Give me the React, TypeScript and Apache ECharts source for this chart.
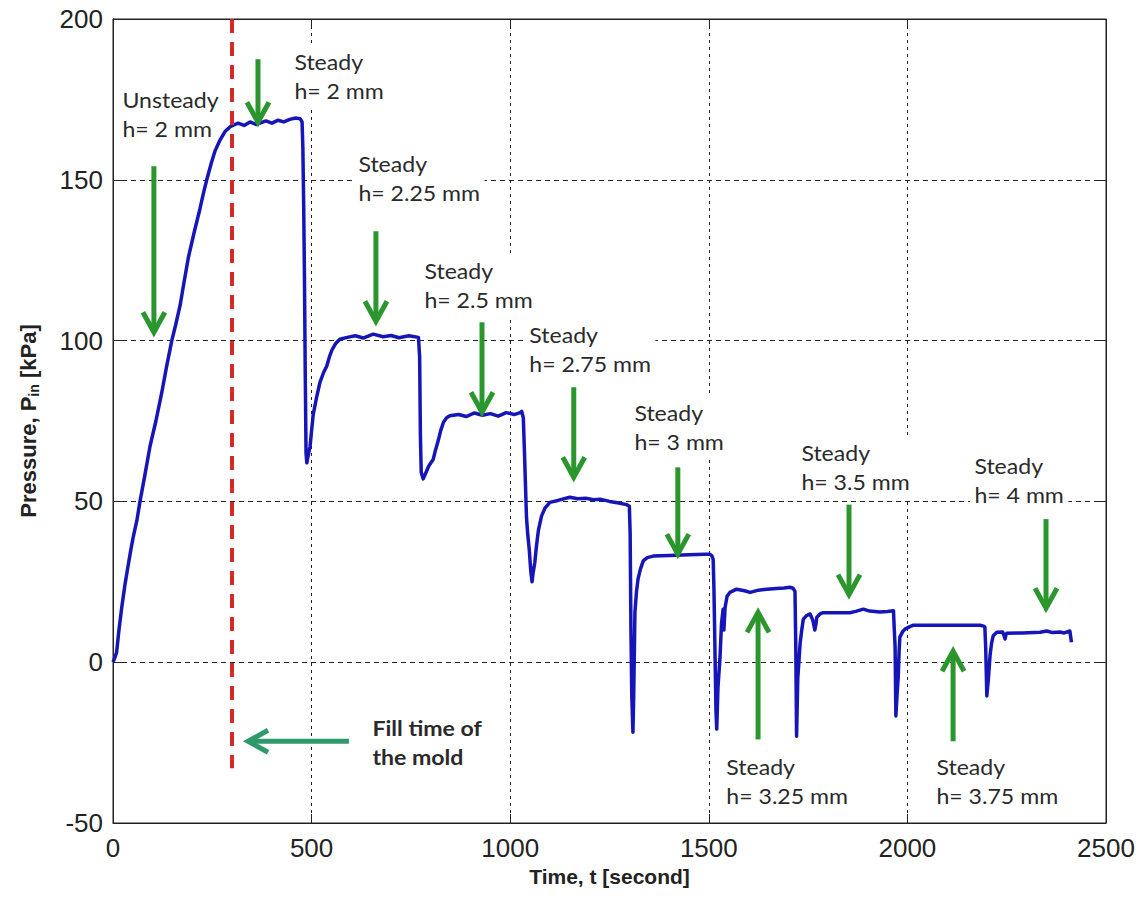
import React, { useEffect, useRef } from 'react';
import * as echarts from 'echarts';

// Pressure trace: [time (s), pressure (kPa)]
const pressureTrace: [number, number][] = [
  [0,0],[5,1.5],[9,3],[15,10],[22,17],[30,24],[38,30],[45,35],[51,39],[60,44],[68,50],[80,58],[93,67],[108,75],[123,84],[135,92],[148,100],[158,105],[169,111],[180,119],[190,126],[205,134],[219,141],[228,146],[236,150],[247,155],[257,159],[268,162],[282,165],[295,166.5],[303,167],[315,167.6],[330,166.9],[345,168],[360,167.2],[370,167.6],[385,168.3],[400,167.6],[415,168.5],[430,168],[445,168.8],[460,169.2],[471,169],[476,168],[478,160],[480,143],[482,120],[484,90],[486,65],[488,62],[491,64],[496,67],[500,72],[504,77],[512,82],[521,87],[530,90],[538,92],[545,95],[551,97],[560,99],[571,100.4],[590,101],[610,101.5],[630,100.8],[655,102],[680,101.2],[700,101.6],[720,100.9],[745,101.5],[769,101],[772,95],[774,70],[776,59],[781,57],[788,59],[795,61],[806,63],[812,66],[819,69],[825,72],[832,74.6],[840,76],[848,76.6],[870,77],[890,76.4],[910,77.5],[930,76.8],[950,77.3],[970,76.5],[990,77.6],[1010,77],[1025,77.6],[1029,78],[1033,76],[1036,65],[1038,57],[1041,45],[1044,40],[1048,35],[1052,28],[1055,25],[1058,28],[1062,31],[1066,36],[1071,41],[1079,45.5],[1088,48],[1100,49.7],[1120,50.3],[1150,51.3],[1170,50.8],[1190,51],[1210,50.5],[1226,50.7],[1250,50],[1270,49.6],[1293,49],[1300,48.5],[1302,40],[1304,10],[1306,-10],[1309,-21.8],[1311,-10],[1314,15.5],[1318,22],[1322,26],[1328,29],[1335,31.5],[1345,32.5],[1360,33],[1400,33.2],[1450,33.4],[1490,33.6],[1503,33.6],[1508,33],[1511,32],[1513,22.7],[1516,0],[1518,-15],[1520,-20.8],[1523,-8],[1528,1],[1532,12],[1536,16.5],[1538,10],[1541,17],[1546,20.5],[1553,21.7],[1570,22.7],[1590,22.2],[1604,21.7],[1625,22.4],[1646,22.7],[1670,22.9],[1690,23.1],[1704,23.3],[1712,23],[1717,22],[1719,5],[1721,-23],[1724,-5],[1730,6],[1734,10],[1738,13.4],[1746,14.5],[1755,15],[1762,13],[1767,10],[1770,12],[1772,14],[1780,15],[1788,15.4],[1820,15.4],[1855,15.4],[1870,15.8],[1889,16.5],[1905,15.9],[1931,15.6],[1950,15.8],[1965,16],[1967,10],[1969,5],[1971,-16.7],[1974,-10],[1977,-4.3],[1979,3],[1981,7.8],[1988,9.5],[1994,10.3],[2005,11],[2015,11.5],[2100,11.5],[2183,11.5],[2192,11.2],[2195,10.9],[2197,5],[2200,-10.5],[2204,-5],[2208,2],[2212,6],[2216,8.2],[2225,9.3],[2240,9.4],[2244,8],[2246,7.2],[2248,8.5],[2250,9],[2290,9.1],[2334,9.3],[2351,9.7],[2365,9.2],[2384,9.4],[2395,9.1],[2409,9.7],[2411,8],[2413,6.2],
];

const fillTime = 300; // s
const fillLineBottom = -33;

const xRange = [0, 2500];
const yRange = [-50, 200];

// Annotation texts, anchored in data coordinates (left edge, centre of first line)
const labelTexts = [
  'Unsteady\nh= 2 mm', 'Steady\nh= 2 mm', 'Steady\nh= 2.25 mm', 'Steady\nh= 2.5 mm',
  'Steady\nh= 2.75 mm', 'Steady\nh= 3 mm', 'Steady\nh= 3.5 mm', 'Steady\nh= 4 mm',
  'Steady\nh= 3.25 mm', 'Steady\nh= 3.75 mm', 'Fill time of\nthe mold',
];
const labelAnchorT = [12.6, 445.6, 606.7, 773, 1037, 1301.6, 1722, 2157.6, 1533, 2062, 642];
const labelAnchorP = [175.4, 187.2, 155.5, 122.2, 102.3, 78, 65.6, 61.6, -32, -32, -19.9];

// Arrows: from (t0,p0) to tip (t1,p1)
const arrowFromT = [103, 365, 662, 929, 1160, 1422, 1624, 1853, 2115, 2349, 594];
const arrowFromP = [154.2, 187.5, 134, 105.7, 85.5, 60.6, -24, 49, -24.6, 44.5, -24.6];
const arrowToT = [103, 365, 662, 929, 1160, 1422, 1624, 1853, 2115, 2349, 340];
const arrowToP = [102.6, 167.9, 106, 77.7, 57.5, 33.6, 15.5, 21, 3.4, 16.8, -24.6];

export default function App() {
  const ref = useRef<HTMLDivElement>(null);
  useEffect(() => {
    if (!ref.current) return;
    const chart = echarts.init(ref.current, null, { renderer: 'svg' });
    const axisColor = '#222';
    const tickFont = { fontFamily: 'Liberation Sans', fontSize: 26, color: '#222', formatter: (v: number) => String(v) };
    chart.setOption({
      animation: false,
      backgroundColor: '#fff',
      grid: { left: 113, top: 19, width: 993, height: 804, show: true, borderColor: axisColor, borderWidth: 1 },
      xAxis: [
        {
          type: 'value', min: xRange[0], max: xRange[1], interval: 500,
          name: 'Time, t [second]', nameLocation: 'middle', nameGap: 38,
          nameTextStyle: { fontFamily: 'Liberation Sans', fontWeight: 'bold', fontSize: 21, color: '#222' },
          axisLine: { show: true, onZero: false, lineStyle: { color: axisColor, width: 1 } },
          axisTick: { show: true, inside: true, length: 9, lineStyle: { color: axisColor } },
          axisLabel: { ...tickFont, margin: 12 },
          splitLine: { show: true, lineStyle: { color: axisColor, type: [3, 4], width: 1 } },
        },
        {
          type: 'value', position: 'top', min: xRange[0], max: xRange[1], interval: 500,
          axisLine: { show: true, onZero: false, lineStyle: { color: axisColor } },
          axisTick: { show: true, inside: true, length: 9, lineStyle: { color: axisColor } },
          axisLabel: { show: false }, splitLine: { show: false },
        },
      ],
      yAxis: [
        {
          type: 'value', min: yRange[0], max: yRange[1], interval: 50,
          name: '{b|Pressure, P}{s|in}{b| [kPa]}', nameLocation: 'middle', nameGap: 72,
          nameTextStyle: {
            rich: {
              b: { fontFamily: 'Liberation Sans', fontWeight: 'bold', fontSize: 22, color: '#222', lineHeight: 26 },
              s: { fontFamily: 'Liberation Sans', fontWeight: 'bold', fontSize: 14, color: '#222', lineHeight: 10, verticalAlign: 'bottom' },
            },
          },
          axisLine: { show: true, onZero: false, lineStyle: { color: axisColor, width: 1 } },
          axisTick: { show: true, inside: true, length: 9, lineStyle: { color: axisColor } },
          axisLabel: { ...tickFont, margin: 10 },
          splitLine: { show: true, lineStyle: { color: axisColor, type: [5, 4], width: 1 } },
        },
        {
          type: 'value', position: 'right', min: yRange[0], max: yRange[1], interval: 50,
          axisLine: { show: true, onZero: false, lineStyle: { color: axisColor } },
          axisTick: { show: true, inside: true, length: 9, lineStyle: { color: axisColor } },
          axisLabel: { show: false }, splitLine: { show: false },
        },
      ],
      series: [
        {
          type: 'line', data: pressureTrace, showSymbol: false, z: 3,
          lineStyle: { color: '#1616b8', width: 3.5, join: 'round' },
          markLine: {
            silent: true, symbol: ['none', 'none'], z: 4,
            label: { show: false },
            lineStyle: { color: '#d42a2a', width: 4, type: [14, 9] },
            data: [[{ coord: [fillTime, yRange[1]] }, { coord: [fillTime, fillLineBottom] }]],
          },
        },
      ],
    });

    const toPx = (t: number, p: number) => chart.convertToPixel({ gridIndex: 0 }, [t, p]) as number[];
    const graphics: any[] = [];
    labelTexts.forEach((txt, i) => {
      const [x, y] = toPx(labelAnchorT[i], labelAnchorP[i]);
      const bold = i === labelTexts.length - 1;
      graphics.push({
        type: 'text', x, y: y - 14.5, z: 1, scaleX: 1.1, originX: 0, originY: 0,
        style: {
          text: txt, fill: '#2a2a2a', fontFamily: 'Lato', fontSize: 21, fontWeight: bold ? 'bold' : 'normal',
          lineHeight: 29, align: 'left', verticalAlign: 'top',
          backgroundColor: '#fff', padding: [2, 4, 2, 4],
        },
      });
    });
    arrowFromT.forEach((_, i) => {
      const [x0, y0] = toPx(arrowFromT[i], arrowFromP[i]);
      const [x1, y1] = toPx(arrowToT[i], arrowToP[i]);
      const color = i === arrowFromT.length - 1 ? '#2e9a6c' : '#2b962e';
      const dx = x1 - x0, dy = y1 - y0;
      const len = Math.hypot(dx, dy) || 1;
      const ux = dx / len, uy = dy / len;
      const hl = 20, hw = 11;
      graphics.push({
        type: 'line', z: 12,
        shape: { x1: x0, y1: y0, x2: x1 - ux * 2, y2: y1 - uy * 2 },
        style: { stroke: color, lineWidth: 5 },
      });
      graphics.push({
        type: 'polyline', z: 12,
        shape: { points: [[x1 - ux * hl - uy * hw, y1 - uy * hl + ux * hw], [x1, y1], [x1 - ux * hl + uy * hw, y1 - uy * hl - ux * hw]] },
        style: { stroke: color, lineWidth: 5, fill: 'none', lineJoin: 'miter' },
      });
    });
    chart.setOption({ graphic: graphics });
    return () => chart.dispose();
  }, []);
  return <div ref={ref} style={{ position: 'fixed', left: 0, top: 0, width: 1146, height: 901 }} />;
}
